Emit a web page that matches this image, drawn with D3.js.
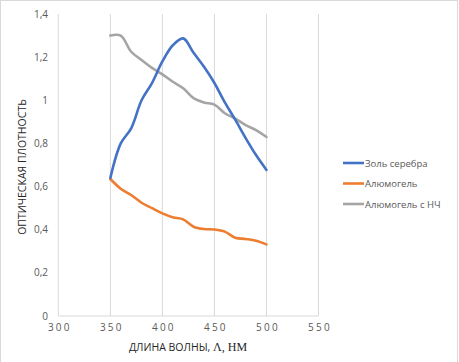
<!DOCTYPE html>
<html><head><meta charset="utf-8">
<script src="https://cdn.jsdelivr.net/npm/d3@7"></script>
<style>body{margin:0;background:#fff}svg{display:block}</style>
</head><body>
<script>
const wavelengths = [350,360,370,380,390,400,410,420,430,440,450,460,470,480,490,500];
const silverSol = [0.64,0.80,0.87,1.00,1.08,1.18,1.255,1.287,1.22,1.155,1.08,0.99,0.91,0.825,0.746,0.677];
const aluminogel = [0.635,0.59,0.561,0.525,0.50,0.476,0.458,0.448,0.414,0.403,0.401,0.391,0.363,0.357,0.349,0.332];
const aluminogelNP = [1.30,1.30,1.225,1.187,1.15,1.12,1.086,1.056,1.01,0.99,0.98,0.94,0.915,0.885,0.862,0.83];
const seriesNames = ["Золь серебра","Алюмогель","Алюмогель с НЧ"];
const seriesColors = ["#4472c4","#ed7d31","#a5a5a5"];
const xTicks = [300,350,400,450,500,550];
const yTicks = [0,0.2,0.4,0.6,0.8,1,1.2,1.4];

const W=459,H=362;
const svg=d3.select("body").append("svg").attr("width",W).attr("height",H);
svg.append("rect").attr("x",0.5).attr("y",0.5).attr("width",W-2).attr("height",H+5)
  .attr("fill","#fff").attr("stroke","#d9d9d9");

const x=d3.scaleLinear().domain([300,550]).range([58.3,318.5]);
const y=d3.scaleLinear().domain([0,1.4]).range([316,14]);

// vertical gridlines
svg.append("g").selectAll("line").data(xTicks).join("line")
  .attr("x1",d=>x(d)).attr("x2",d=>x(d)).attr("y1",y(1.4)).attr("y2",y(0))
  .attr("stroke","#d9d9d9").attr("stroke-width",1);
// x axis line
svg.append("line").attr("x1",x(300)).attr("x2",x(550)).attr("y1",y(0)).attr("y2",y(0))
  .attr("stroke","#d9d9d9").attr("stroke-width",1);

const fmt=d=>String(d).replace(".",",");
svg.append("g").selectAll("text").data(yTicks).join("text")
  .attr("x",48).attr("y",d=>y(d)+3.5).attr("text-anchor","end")
  .attr("font-family","Open Sans, Liberation Sans, sans-serif").attr("font-size",10)
  .attr("fill","#595959").text(fmt);
svg.append("g").selectAll("text").data(xTicks).join("text")
  .attr("x",d=>x(d)+1.5).attr("y",331).attr("text-anchor","middle")
  .attr("font-family","Open Sans, Liberation Sans, sans-serif").attr("font-size",10)
  .attr("letter-spacing","2.2px")
  .attr("fill","#595959").text(d=>d);

// axis titles
svg.append("text").attr("transform",`translate(26,${(y(0)+y(1.4))/2+2}) rotate(-90)`)
  .attr("text-anchor","middle").attr("font-family","Open Sans, Liberation Sans, sans-serif")
  .attr("font-size",10.5).attr("fill","#262626").text("ОПТИЧЕСКАЯ ПЛОТНОСТЬ");
const xt=svg.append("text").attr("x",188).attr("y",351).attr("text-anchor","middle")
  .attr("font-family","Open Sans, Liberation Sans, sans-serif")
  .attr("font-size",10.5).attr("fill","#262626");
xt.append("tspan").text("ДЛИНА ВОЛНЫ, ");
xt.append("tspan").attr("font-family","Liberation Serif, serif").attr("font-size",12).text("Λ, НМ");

const data=[silverSol,aluminogel,aluminogelNP];
const line=d3.line().x((d,i)=>x(wavelengths[i])).y(d=>y(d)).curve(d3.curveCatmullRom.alpha(0.5));
[2,1,0].forEach(k=>{
  svg.append("path").attr("d",line(data[k])).attr("fill","none")
    .attr("stroke",seriesColors[k]).attr("stroke-width",2.6).attr("stroke-linecap","round");
});

// legend
const lg=svg.append("g");
seriesNames.forEach((n,i)=>{
  const ly=163+i*20.5;
  lg.append("line").attr("x1",343).attr("x2",364).attr("y1",ly).attr("y2",ly)
    .attr("stroke",seriesColors[i]).attr("stroke-width",2.6);
  lg.append("text").attr("x",365).attr("y",ly+3.5)
    .attr("font-family","Open Sans, Liberation Sans, sans-serif").attr("font-size",9.5)
    .attr("fill","#595959").text(n);
});
</script>
</body></html>
